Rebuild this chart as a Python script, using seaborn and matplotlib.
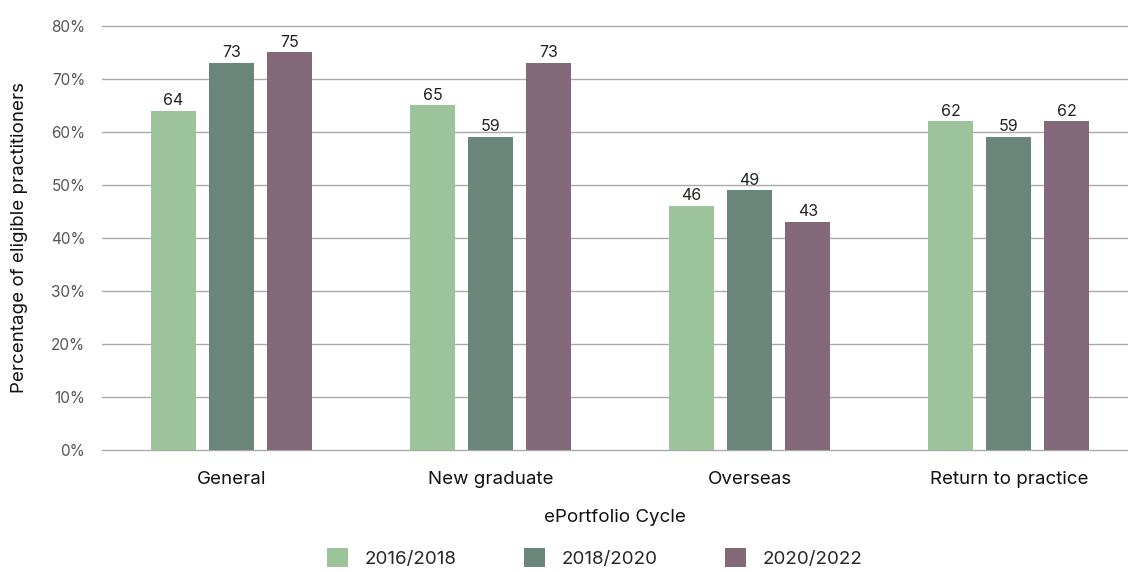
import matplotlib
matplotlib.use("Agg")
import matplotlib.pyplot as plt
import seaborn as sns
import pandas as pd
from matplotlib.patches import Patch

categories = ["General", "New graduate", "Overseas", "Return to practice"]
cycles = ["2016/2018", "2018/2020", "2020/2022"]
values_2016_2018 = [64, 65, 46, 62]
values_2018_2020 = [73, 59, 49, 59]
values_2020_2022 = [75, 73, 43, 62]
y_ticks = [0, 10, 20, 30, 40, 50, 60, 70, 80]

colors = ["#9dc39a", "#6a867b", "#826878"]

rows = []
for cycle, vals in zip(cycles, [values_2016_2018, values_2018_2020, values_2020_2022]):
    for cat, v in zip(categories, vals):
        rows.append({"category": cat, "cycle": cycle, "value": v})
df = pd.DataFrame(rows)

sns.set_theme(style="white")
plt.rcParams["font.family"] = ["Inter", "DejaVu Sans"]

fig = plt.figure(figsize=(11.28, 5.72), dpi=100)
ax = fig.add_axes([0.0904, 0.2133, 0.9096, 0.7413])
ax.set_axisbelow(True)

sns.barplot(data=df, x="category", y="value", hue="cycle", order=categories,
            hue_order=cycles, palette=colors, width=0.672, gap=0.22,
            saturation=1, legend=False, ax=ax, linewidth=0)

for container in ax.containers:
    ax.bar_label(container, fmt="%d", padding=2, fontsize=11.5, color="#222222")

ax.set_ylim(0, 80)
ax.set_xlim(-0.5, 3.46)
ax.set_yticks(y_ticks)
ax.set_yticklabels([f"{t}%" for t in y_ticks], fontsize=11, color="#555555")
ax.yaxis.grid(True, color="#aaaaaa", linewidth=1)
for gl in ax.get_ygridlines():
    gl.set_clip_on(False)
ax.xaxis.grid(False)
for s in ax.spines.values():
    s.set_visible(False)
ax.tick_params(axis="y", length=0, pad=12)
ax.tick_params(axis="x", length=0, pad=15, labelsize=13.5, labelcolor="#111111")

ax.set_xlabel("ePortfolio Cycle", fontsize=13.5, color="#111111", labelpad=15)
ax.set_ylabel("Percentage of eligible practitioners", fontsize=13.5,
              color="#111111")
ax.yaxis.set_label_coords(-0.072, 0.5)

handles = [Patch(facecolor=c, edgecolor="none") for c in colors]
fig.legend(handles, cycles, loc="lower center", bbox_to_anchor=(0.527, -0.022),
           ncol=3, frameon=False, fontsize=13.5, handlelength=1.15,
           handleheight=1.15, columnspacing=3.6, handletextpad=0.85)

fig.savefig("out.png", dpi=100)
